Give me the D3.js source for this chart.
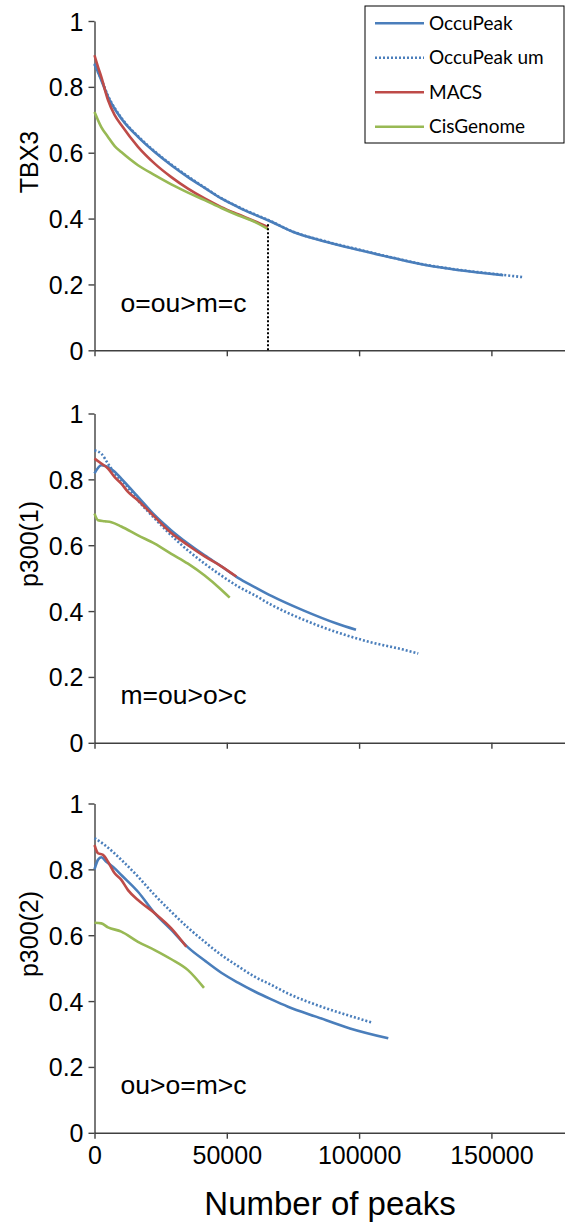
<!DOCTYPE html>
<html>
<head>
<meta charset="utf-8">
<script src="https://cdn.jsdelivr.net/npm/d3@7/dist/d3.min.js"></script>
<style>
  html, body { margin: 0; padding: 0; background: #fff; }
  svg { display: block; }
  text { font-family: "Liberation Sans", Arial, sans-serif; fill: #000; }
  .legend text { font-family: Lato, "Open Sans", sans-serif; }
</style>
</head>
<body>
<svg id="chart" width="565" height="1222"></svg>
<script>
// ---- data: [number of peaks, fraction] ----
const seriesNames = ["OccuPeak", "OccuPeak um", "MACS", "CisGenome"];
const panelLabels = ["TBX3", "p300(1)", "p300(2)"];
const rankNotes = ["o=ou>m=c", "m=ou>o>c", "ou>o=m>c"];
const xTicks = [0, 50000, 100000, 150000];
const yTicks = [0, 0.2, 0.4, 0.6, 0.8, 1];

const tbx3OccuPeak = [[0,0.871],[2570,0.820],[5100,0.770],[10130,0.704],[16440,0.648],[22750,0.602],[29030,0.562],[35330,0.526],[41640,0.493],[47920,0.461],[54230,0.435],[60540,0.412],[65570,0.395],[75130,0.359],[87750,0.329],[100330,0.304],[112920,0.280],[125540,0.258],[138130,0.243],[154490,0.228]];
const tbx3OccuPeakUm = [[0,0.868],[2570,0.823],[5100,0.773],[10130,0.706],[16440,0.650],[22750,0.604],[29030,0.564],[35330,0.528],[41640,0.494],[47920,0.462],[54230,0.436],[60540,0.413],[65570,0.396],[75130,0.360],[87750,0.330],[100330,0.305],[112920,0.281],[125540,0.259],[138130,0.244],[154490,0.229],[162000,0.222]];
const tbx3Macs = [[0,0.896],[1320,0.861],[2570,0.830],[5100,0.760],[7630,0.714],[10130,0.684],[16440,0.618],[22750,0.567],[29030,0.526],[35330,0.491],[41640,0.461],[47920,0.435],[54230,0.413],[60540,0.392],[65570,0.374]];
const tbx3CisGenome = [[0,0.724],[2570,0.678],[5100,0.648],[7630,0.620],[10130,0.602],[16440,0.562],[22750,0.532],[29030,0.504],[35330,0.479],[41640,0.456],[47920,0.432],[54230,0.410],[60540,0.390],[65570,0.368]];
const tbx3Cutoff = [[65570,0],[65570,0.385]];

const p3001OccuPeak = [[0,0.818],[2570,0.843],[5100,0.838],[7630,0.823],[10130,0.802],[16440,0.747],[22750,0.691],[29030,0.645],[35330,0.605],[41640,0.569],[47920,0.536],[54230,0.501],[60540,0.473],[66850,0.446],[78910,0.402],[91530,0.362],[98820,0.343]];
const p3001OccuPeakUm = [[0,0.888],[2570,0.878],[5100,0.848],[7630,0.818],[11400,0.787],[16440,0.736],[22750,0.681],[30300,0.620],[35330,0.584],[41640,0.544],[47920,0.508],[54230,0.475],[60540,0.448],[66850,0.419],[78910,0.374],[91530,0.336],[104110,0.306],[116690,0.283],[122360,0.271]];
const p3001Macs = [[0,0.863],[2570,0.848],[5100,0.833],[7630,0.807],[10130,0.787],[12660,0.762],[16440,0.736],[22750,0.686],[29030,0.637],[35330,0.600],[41640,0.566],[47920,0.536],[53590,0.505]];
const p3001CisGenome = [[0,0.696],[1320,0.676],[3850,0.673],[6370,0.670],[10130,0.657],[16440,0.630],[22750,0.605],[29030,0.574],[35330,0.544],[41640,0.508],[47920,0.465],[51090,0.441]];

const p3002OccuPeak = [[0,0.800],[1320,0.829],[2570,0.837],[4470,0.823],[7630,0.803],[10130,0.783],[16440,0.732],[22750,0.667],[29030,0.616],[35330,0.563],[41640,0.523],[47920,0.486],[54230,0.456],[60540,0.429],[66850,0.405],[73120,0.383],[83970,0.352],[96550,0.317],[111030,0.287]];
const p3002OccuPeakUm = [[0,0.895],[3850,0.874],[10130,0.829],[16440,0.778],[22750,0.722],[29030,0.671],[35330,0.623],[41640,0.580],[47920,0.540],[54230,0.506],[60540,0.474],[66850,0.449],[73120,0.423],[83970,0.388],[96550,0.355],[104750,0.335]];
const p3002Macs = [[0,0.874],[1320,0.849],[3210,0.844],[5100,0.823],[7630,0.788],[10130,0.768],[12660,0.737],[16440,0.707],[22750,0.667],[29030,0.621],[34700,0.565]];
const p3002CisGenome = [[0,0.638],[2570,0.636],[5100,0.624],[10130,0.611],[16440,0.580],[22750,0.555],[29030,0.527],[35330,0.494],[41380,0.440]];

const panels = [
  { label: panelLabels[0], note: rankNotes[0], series: [tbx3OccuPeak, tbx3OccuPeakUm, tbx3Macs, tbx3CisGenome], cutoff: tbx3Cutoff },
  { label: panelLabels[1], note: rankNotes[1], series: [p3001OccuPeak, p3001OccuPeakUm, p3001Macs, p3001CisGenome] },
  { label: panelLabels[2], note: rankNotes[2], series: [p3002OccuPeak, p3002OccuPeakUm, p3002Macs, p3002CisGenome] }
];

// ---- styling ----
const colors = ["#4a7ebb", "#4a7ebb", "#be4b48", "#98b954"];
const dashes = [null, "2,2", null, null];
const axisColor = "#404040";
const sansFont = "'Liberation Sans', Arial, sans-serif";

// ---- layout ----
const svg = d3.select("#chart");
const left = 94.5;
const pxPer50k = 132.3;
const x = d3.scaleLinear().domain([0, 180000]).range([left, left + 3.6 * pxPer50k]);
const panelTops = [21, 413.5, 803.5];
const panelH = 329.3;
const labelCenters = [162, 544, 934];

const line = d3.line().x(d => x(d[0])).curve(d3.curveMonotoneX);

panels.forEach((p, i) => {
  const top = panelTops[i];
  const y = d3.scaleLinear().domain([0, 1]).range([top + panelH, top]);
  const g = svg.append("g");

  // y axis
  const yAxis = d3.axisLeft(y).tickValues(yTicks).tickSize(6).tickSizeOuter(0)
    .tickFormat(d => String(+d.toFixed(1)));
  const ya = g.append("g").attr("transform", `translate(${left},0)`).call(yAxis);
  ya.attr("font-family", null).attr("font-size", null);
  ya.select(".domain").attr("stroke", axisColor).attr("stroke-width", 1.4);
  ya.selectAll(".tick line").attr("stroke", axisColor).attr("stroke-width", 1.4);
  ya.selectAll(".tick text").attr("x", -11).attr("dy", "0.36em")
    .style("font-size", "25px").style("font-family", sansFont).attr("fill", "#000");

  // x axis
  const xAxis = d3.axisBottom(x).tickValues(xTicks).tickSize(6).tickSizeOuter(0)
    .tickFormat(d3.format("d"));
  const xa = g.append("g").attr("transform", `translate(0,${top + panelH})`).call(xAxis);
  xa.attr("font-family", null).attr("font-size", null);
  xa.select(".domain").attr("stroke", axisColor).attr("stroke-width", 1.4);
  xa.selectAll(".tick line").attr("stroke", axisColor).attr("stroke-width", 1.4);
  if (i === panels.length - 1) {
    xa.selectAll(".tick text").attr("y", 13).attr("dy", "0.71em")
      .style("font-size", "25px").style("font-family", sansFont).attr("fill", "#000");
  } else {
    xa.selectAll(".tick text").remove();
  }

  // y axis title
  g.append("text")
    .attr("transform", `translate(38,${labelCenters[i]}) rotate(-90)`)
    .attr("text-anchor", "middle")
    .style("font-size", "25px")
    .style("font-family", sansFont)
    .text(p.label);

  // ranking note
  g.append("text")
    .attr("x", 120.5).attr("y", y(0) - 38.5)
    .style("font-size", "26.5px")
    .style("font-family", sansFont)
    .text(p.note);

  // curves
  p.series.forEach((s, k) => {
    g.append("path")
      .datum(s)
      .attr("fill", "none")
      .attr("stroke", colors[k])
      .attr("stroke-width", 2.6)
      .attr("stroke-dasharray", dashes[k])
      .attr("d", line.y(d => y(d[1])));
  });

  // cutoff marker
  if (p.cutoff) {
    g.append("path")
      .datum(p.cutoff)
      .attr("fill", "none")
      .attr("stroke", "#000")
      .attr("stroke-width", 2)
      .attr("stroke-dasharray", "2,2")
      .attr("d", d3.line().x(d => x(d[0])).y(d => y(d[1])));
  }
});

// x axis title
svg.append("text")
  .attr("x", 330).attr("y", 1215)
  .attr("text-anchor", "middle")
  .style("font-size", "33px")
  .style("font-family", sansFont)
  .text("Number of peaks");

// legend
const legend = svg.append("g").attr("class", "legend");
legend.append("rect")
  .attr("x", 365).attr("y", 6).attr("width", 199).attr("height", 137)
  .attr("fill", "#fff").attr("stroke", "#000").attr("stroke-width", 1);
seriesNames.forEach((name, k) => {
  const cy = 23.3 + k * 34.5;
  legend.append("line")
    .attr("x1", 375).attr("x2", 424).attr("y1", cy).attr("y2", cy)
    .attr("stroke", colors[k]).attr("stroke-width", 2.6)
    .attr("stroke-dasharray", dashes[k]);
  legend.append("text")
    .attr("x", 429).attr("y", cy).attr("dy", "0.35em")
    .style("font-size", "19px")
    .text(name);
});
</script>
</body>
</html>
